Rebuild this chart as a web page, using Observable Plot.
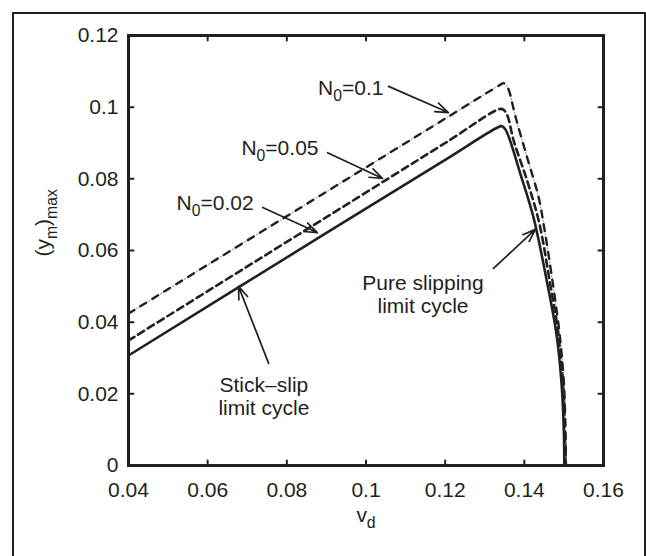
<!DOCTYPE html>
<html><head><meta charset="utf-8">
<script src="https://cdn.jsdelivr.net/npm/d3@7"></script>
<script src="https://cdn.jsdelivr.net/npm/@observablehq/plot@0.6"></script>
<style>
html,body{margin:0;padding:0;background:#fff;}
#wrap{position:relative;width:646px;height:556px;overflow:hidden;background:#fff;}
#border{position:absolute;left:12px;top:12px;width:634px;height:620px;border:2px solid #231f20;box-sizing:border-box;}
#wrap svg{position:absolute;left:0;top:0;}
</style></head><body><div id="wrap"><div id="border"></div></div>
<script>
// ---- tick values and labels ----
const xTicks = [0.04, 0.06, 0.08, 0.1, 0.12, 0.14, 0.16];
const xTickLabels = ["0.04", "0.06", "0.08", "0.1", "0.12", "0.14", "0.16"];
const yTicks = [0, 0.02, 0.04, 0.06, 0.08, 0.1, 0.12];
const yTickLabels = ["0", "0.02", "0.04", "0.06", "0.08", "0.1", "0.12"];

// ---- series: N0 = 0.02 (solid) ----
const vdN002 = [0.04, 0.09, 0.12, 0.1330, 0.1344, 0.1352, 0.1361, 0.1390, 0.1423, 0.1458, 0.1481, 0.1494, 0.1500, 0.1501];
const ymN002 = [0.0307, 0.0649, 0.0853, 0.0942, 0.0947, 0.0938, 0.0916, 0.0814, 0.0693, 0.0508, 0.0368, 0.0229, 0.0089, 0];
// ---- series: N0 = 0.05 (dashed) ----
const vdN005 = [0.04, 0.09, 0.12, 0.1338, 0.1347, 0.1357, 0.1373, 0.1407, 0.1438, 0.1465, 0.1486, 0.1498, 0.1503, 0.1504];
const ymN005 = [0.0349, 0.0693, 0.0900, 0.0995, 0.0993, 0.0977, 0.0907, 0.0795, 0.0675, 0.0508, 0.0368, 0.0229, 0.0089, 0];
// ---- series: N0 = 0.1 (dash-dot) ----
const vdN01 = [0.04, 0.09, 0.12, 0.1340, 0.1347, 0.1354, 0.1361, 0.1378, 0.1407, 0.1436, 0.1450, 0.1472, 0.1489, 0.1500, 0.1504, 0.1505];
const ymN01 = [0.0424, 0.0764, 0.0968, 0.1063, 0.1067, 0.1062, 0.1047, 0.0972, 0.0860, 0.0749, 0.0665, 0.0508, 0.0368, 0.0229, 0.0089, 0];

// ---- annotations ----
const nLabelText = ["N{0}=0.1", "N{0}=0.05", "N{0}=0.02"];
const nLabelX = [0.1044, 0.0880, 0.0716];
const nLabelY = [0.1053, 0.0885, 0.0733];
const cycleText = ["Stick\u2013slip\nlimit cycle", "Pure slipping\nlimit cycle"];
const cycleX = [0.0742, 0.1144];
const cycleY = [0.0193, 0.0479];
const arrowX1 = [0.1057, 0.0903, 0.0739, 0.0754, 0.1322];
const arrowY1 = [0.1058, 0.0873, 0.0720, 0.0285, 0.0550];
const arrowX2 = [0.1208, 0.1042, 0.0877, 0.0678, 0.1428];
const arrowY2 = [0.0985, 0.0801, 0.0650, 0.0500, 0.0659];
const xLabel = "v{d}";
const yLabel = "(y{m}){max}";

const ink = "#231f20";
const FS = 21;
const rows = (vs, ys) => vs.map((v, i) => ({v, y: ys[i]}));
const s1 = rows(vdN002, ymN002), s2 = rows(vdN005, ymN005), s3 = rows(vdN01, ymN01);
const nLabels = nLabelText.map((t, i) => ({t, x: nLabelX[i], y: nLabelY[i]}));
const cycles = cycleText.map((t, i) => ({t, x: cycleX[i], y: cycleY[i]}));
const arrows = arrowX1.map((x1, i) => ({x1, y1: arrowY1[i], x2: arrowX2[i], y2: arrowY2[i]}));

// inward tick shape for vector marks
const tickShape = {draw(context, l) { context.moveTo(0, 0); context.lineTo(0, -l); }};
const tickOpts = {length: 5, anchor: "start", shape: tickShape, stroke: ink, strokeWidth: 2};

const plot = Plot.plot({
  width: 646, height: 556,
  marginLeft: 128, marginRight: 43, marginTop: 35, marginBottom: 91,
  style: {fontFamily: "'Liberation Sans', Arial, sans-serif", fontSize: FS + "px", color: ink, background: "transparent", overflow: "visible"},
  x: {domain: [0.04, 0.16]},
  y: {domain: [0, 0.12]},
  marks: [
    Plot.line(s1, {x: "v", y: "y", stroke: ink, strokeWidth: 2.6, curve: "catmull-rom"}),
    Plot.line(s2, {x: "v", y: "y", stroke: ink, strokeWidth: 2.6, strokeDasharray: "7,4.5", curve: "catmull-rom"}),
    Plot.line(s3, {x: "v", y: "y", stroke: ink, strokeWidth: 2.4, strokeDasharray: "7,7", curve: "catmull-rom"}),
    Plot.line(s3, {x: "v", y: "y", stroke: "#8a8a8a", strokeWidth: 1, strokeDasharray: "1.5,12.5", strokeDashoffset: -9.75, curve: "catmull-rom"}),
    Plot.arrow(arrows, {x1: "x1", y1: "y1", x2: "x2", y2: "y2", stroke: ink, strokeWidth: 1.7, headLength: 12, headAngle: 40, strokeLinejoin: "miter", ariaLabel: "annotation-arrow"}),
    Plot.text(nLabels, {x: "x", y: "y", text: "t", textAnchor: "end", fill: ink}),
    Plot.text(cycles, {x: "x", y: "y", text: "t", textAnchor: "middle", lineHeight: 1.1, fill: ink}),
    Plot.axisX({anchor: "bottom", ticks: xTicks, tickSize: 0, tickPadding: 17, tickFormat: d => xTickLabels[xTicks.indexOf(d)], label: null}),
    Plot.axisY({anchor: "left", ticks: yTicks, tickSize: 0, tickPadding: 10, tickFormat: d => yTickLabels[yTicks.indexOf(d)], label: null}),
    Plot.vector(xTicks, {x: d => d, frameAnchor: "bottom", rotate: 0, ...tickOpts}),
    Plot.vector(xTicks, {x: d => d, frameAnchor: "top", rotate: 180, ...tickOpts}),
    Plot.vector(yTicks, {y: d => d, frameAnchor: "left", rotate: 90, ...tickOpts}),
    Plot.vector(yTicks, {y: d => d, frameAnchor: "right", rotate: -90, ...tickOpts}),
    Plot.frame({stroke: ink, strokeWidth: 3}),
    Plot.text([xLabel], {frameAnchor: "bottom", dy: 56, text: d => d, fill: ink}),
    Plot.text([yLabel], {frameAnchor: "left", dx: -85, dy: 6, rotate: -90, text: d => d, fill: ink})
  ]
});

function subify(el, fs) {
  const s = el.textContent;
  if (!s.includes("{")) return;
  el.textContent = "";
  const ns = "http://www.w3.org/2000/svg";
  const parts = s.split(/(\{[^}]*\})/).filter(p => p.length);
  const shift = fs * 0.3;
  let shifted = false;
  for (const p of parts) {
    const t = document.createElementNS(ns, "tspan");
    if (p[0] === "{") {
      t.textContent = p.slice(1, -1);
      t.setAttribute("font-size", fs * 0.75);
      if (!shifted) t.setAttribute("dy", shift);
      shifted = true;
    } else {
      t.textContent = p;
      if (shifted) { t.setAttribute("dy", -shift); shifted = false; }
    }
    el.appendChild(t);
  }
}
plot.querySelectorAll("text").forEach(el => subify(el, FS));
// fill the arrow heads (close the head sub-path)
plot.querySelectorAll('g[aria-label="annotation-arrow"] path').forEach(p => {
  p.setAttribute("d", p.getAttribute("d") + "Z");
  p.setAttribute("fill", ink);
});
document.getElementById("wrap").appendChild(plot);
</script></body></html>
